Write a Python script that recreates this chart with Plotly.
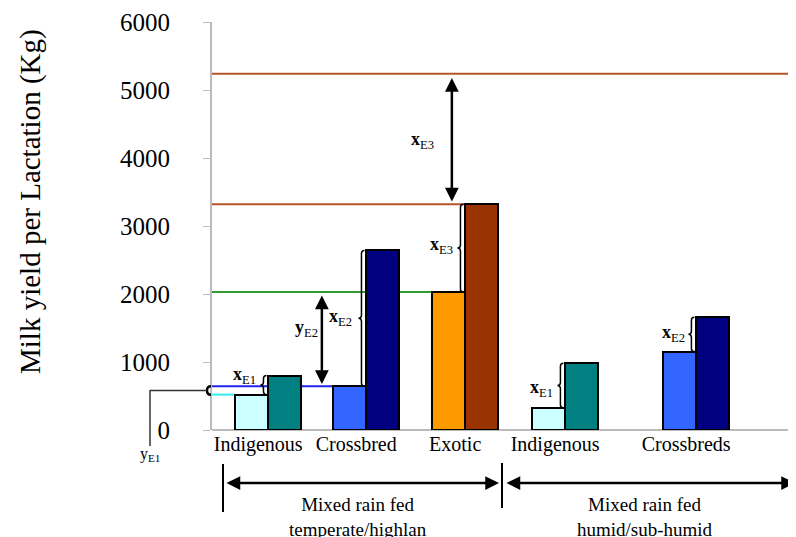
import plotly.graph_objects as go

# ---- data ----
categories = ["Indigenous", "Crossbred", "Exotic", "Indigenous", "Crossbreds"]
current_yield = [520, 645, 2030, 326, 1154]      # first bar of each pair
potential_yield = [800, 2640, 3320, 982, 1659]   # second bar of each pair
exotic_potential = 5240
y_ticks = [0, 1000, 2000, 3000, 4000, 5000, 6000]
systems = ["Mixed rain fed<br>temperate/highlan", "Mixed rain fed<br>humid/sub-humid"]

# ---- layout helpers ----
pos = [1.7, 4.67, 7.67, 10.7, 14.67]
XMAX = 17.7
low_colors = ["#ccffff", "#3366ff", "#ff9900", "#ccffff", "#3366ff"]
high_colors = ["#008080", "#000080", "#993300", "#008080", "#000080"]
SERIF = "Liberation Serif"

fig = go.Figure()
fig.add_trace(go.Bar(x=pos, y=current_yield, offset=-1, width=1,
                     marker=dict(color=low_colors, line=dict(color="black", width=2)),
                     showlegend=False, hoverinfo="y"))
fig.add_trace(go.Bar(x=pos, y=potential_yield, offset=0, width=1,
                     marker=dict(color=high_colors, line=dict(color="black", width=2)),
                     showlegend=False, hoverinfo="y"))

shapes = []
def hline(y, x1, color):
    shapes.append(dict(type="line", xref="x", yref="y", x0=0, x1=x1, y0=y, y1=y,
                       line=dict(color=color, width=2), layer="below"))

hline(exotic_potential, XMAX, "#b5562a")
hline(potential_yield[2], pos[2], "#b5562a")
hline(current_yield[2], pos[2] - 1, "#339933")
hline(current_yield[1], pos[1] - 1, "#2222ee")
hline(current_yield[0], pos[0] - 1, "#33eeee")

def brace(x, y0, y1, w=0.18, d=45):
    # "{" brace with tip pointing left, right edge at x
    ym = (y0 + y1) / 2
    xm = x - w / 2
    xl = x - w
    p = (f"M {x},{y1} Q {xm},{y1} {xm},{y1-d} L {xm},{ym+d} Q {xm},{ym} {xl},{ym} "
         f"Q {xm},{ym} {xm},{ym-d} L {xm},{y0+d} Q {xm},{y0} {x},{y0}")
    shapes.append(dict(type="path", xref="x", yref="y", path=p,
                       line=dict(color="black", width=1.5)))

for i in range(5):
    brace(pos[i] - 0.05, current_yield[i], potential_yield[i])

# page pixel -> plot-area fraction helpers (plot area spans x 212..796, y 22..430)
px = lambda p: (p - 212) / 584.0
py = lambda p: (430 - p) / 408.0

# y_E1 brace left of the axis and connector
ymid = (current_yield[0] + current_yield[1]) / 2
shapes.append(dict(type="path", xref="paper", yref="y",
                   path=f"M {px(211)},{current_yield[1]} Q {px(207)},{current_yield[1]} {px(207)},{ymid} "
                        f"Q {px(207)},{current_yield[0]} {px(211)},{current_yield[0]}",
                   line=dict(color="black", width=2.5)))
shapes.append(dict(type="line", xref="paper", yref="y", x0=px(150), x1=px(207),
                   y0=ymid, y1=ymid, line=dict(color="#333", width=1.5)))
shapes.append(dict(type="line", xref="paper", yref="paper", x0=px(150), x1=px(150),
                   y0=py(390), y1=py(446), line=dict(color="#333", width=1.5)))

# bottom system dividers
shapes.append(dict(type="line", xref="paper", yref="paper", x0=px(223), x1=px(223),
                   y0=py(464), y1=py(512), line=dict(color="black", width=2)))
shapes.append(dict(type="line", xref="paper", yref="paper", x0=px(502), x1=px(502),
                   y0=py(463), y1=py(508), line=dict(color="black", width=2)))

annotations = []
def arrow2(xr, yr, x0, y0, x1, y1):
    annotations.append(dict(xref=xr, yref=yr, axref=xr, ayref=yr, x=x1, y=y1, ax=x0, ay=y0,
                            showarrow=True, arrowhead=2, startarrowhead=2, arrowside="end+start",
                            arrowsize=1.1, startarrowsize=1.1, arrowwidth=2.5, arrowcolor="black", text=""))

# x_E3 double arrow
arrow2("x", "y", 7.27, exotic_potential - 40, 7.27, potential_yield[2] + 40)
# y_E2 double arrow
arrow2("x", "y", 3.33, current_yield[2] - 30, 3.33, current_yield[1] + 30)
# bottom arrows
arrow2("x domain", "y domain", px(225), py(483), px(499), py(483))
arrow2("x domain", "y domain", px(505), py(483), px(795), py(483))

def label(txt, x, y, xref="x", yref="y", size=18):
    annotations.append(dict(text=txt, x=x, y=y, xref=xref, yref=yref, showarrow=False,
                            xanchor="center", yanchor="middle",
                            font=dict(family=SERIF, size=size, color="black")))

label("<b>x</b><sub>E3</sub>", 6.39, 4260)
label("<b>y</b><sub>E2</sub>", 2.85, 1490)
label("<b>x</b><sub>E1</sub>", 1.0, 800)
label("<b>x</b><sub>E2</sub>", 3.9, 1660)
label("<b>x</b><sub>E3</sub>", 6.95, 2710)
label("<b>x</b><sub>E1</sub>", 10.0, 610)
label("<b>x</b><sub>E2</sub>", 14.0, 1420)
label("y<sub>E1</sub>", px(150), py(454), "paper", "paper", 16)

for name, cx in zip(systems, [358, 645]):
    annotations.append(dict(text=name, x=px(cx), y=py(492), xref="paper", yref="paper",
                            xanchor="center", yanchor="top", showarrow=False,
                            font=dict(family=SERIF, size=19, color="black")))

annotations.append(dict(text="Milk yield per Lactation (Kg)", textangle=-90,
                        x=px(30), y=py(202), xref="paper", yref="paper", showarrow=False,
                        xanchor="center", yanchor="middle",
                        font=dict(family=SERIF, size=29, color="black")))

# the page body adds an 8px offset, so margins are shifted to keep the plot area at 212..796 / 22..430
fig.update_layout(
    width=796, height=537,
    margin=dict(l=204, r=8, t=14, b=115, autoexpand=False),
    plot_bgcolor="white", paper_bgcolor="white",
    shapes=shapes, annotations=annotations,
    bargap=0,
    xaxis=dict(range=[0, XMAX], tickvals=[p - 0.3 for p in pos], ticktext=categories,
               showgrid=False, zeroline=False, showline=False, ticks="", automargin=False,
               tickfont=dict(family=SERIF, size=20, color="black")),
    yaxis=dict(range=[0, 6000], tickvals=y_ticks, showgrid=False, zeroline=True,
               zerolinecolor="#bbbbbb", zerolinewidth=2, automargin=False,
               showline=True, linecolor="#bbbbbb", linewidth=2,
               ticks="outside", ticklen=7, tickcolor="#bbbbbb", ticklabelstandoff=28,
               tickfont=dict(family=SERIF, size=25, color="black")),
)

fig.write_html("out.html")
